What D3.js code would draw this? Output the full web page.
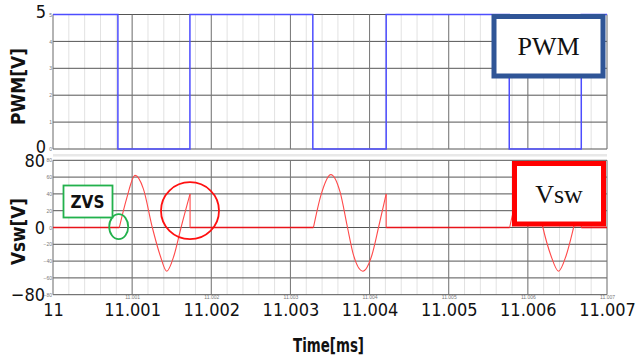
<!DOCTYPE HTML>
<html>
<head>
<meta charset="utf-8">
<style>
html, body {
  margin:0;
  padding:0;
  background:white;
}
svg {
  display:block;
}
.big text {
  font-family:"Liberation Sans Narrow","DejaVu Sans Condensed",sans-serif;
  font-size:18px;
  fill:#111;
}
.tiny text {
  font-family:"Liberation Sans",sans-serif;
  font-size:5px;
  fill:#777;
}
.title {
  font-family:"Liberation Sans Narrow","DejaVu Sans Condensed",sans-serif;
  font-weight:bold;
  font-size:19px;
  fill:#111;
}
.boxlabel {
  font-family:"Liberation Serif","DejaVu Serif",serif;
  font-size:26px;
  fill:#111;
}
</style>
</head>
<body>
<div id="chart"></div>
<script src="https://d3js.org/d3.v7.min.js"></script>
<script>
// tick values
const timeTicks = [11, 11.001, 11.002, 11.003, 11.004, 11.005, 11.006, 11.007];
const pwmTicks = [0, 1, 2, 3, 4, 5];
const pwmBigTicks = [0, 5];
const vswTicks = [-80, -60, -40, -20, 0, 20, 40, 60, 80];
const vswBigTicks = [-80, 0, 80];

// PWM gate signal (step after)
const pwmTime = [11, 11.00082, 11.00173, 11.003283, 11.00421, 11.005765, 11.006675, 11.007];
const pwmVolt = [5, 0, 5, 0, 5, 0, 5, 5];

// Vsw ringing pulses
const pulseTime = [
  [11.000838, 11.000932, 11.001037, 11.001142, 11.001255, 11.001353, 11.001437, 11.00153, 11.001618, 11.001732],
  [11.003291, 11.003384, 11.003511, 11.003628, 11.003721, 11.003797, 11.003915, 11.004029, 11.004113, 11.00421],
  [11.005770, 11.005865, 11.005985, 11.006095, 11.00619, 11.00629, 11.006388, 11.006485, 11.006578, 11.006675]
];
const pulseVolt = [
  [0, 35, 62, 46, 0, -33, -52, -33, 0, 40],
  [0, 38, 63, 42, 0, -33, -52, -33, 0, 40],
  [0, 37, 62, 44, 0, -33, -52, -33, 0, 40]
];

const width = 637, height = 358;

const svg = d3.select("#chart").append("svg")
  .attr("width", width)
  .attr("height", height);

const x = d3.scaleLinear().domain([11, 11.007]).range([53, 607]);
const yP = d3.scaleLinear().domain([0, 5]).range([149, 14.5]);
const yV = d3.scaleLinear().domain([-80, 80]).range([294.7, 160.3]);

// light band between the panels
svg.append("rect")
  .attr("x", x(11)).attr("y", 154)
  .attr("width", x(11.007) - x(11)).attr("height", 2.5)
  .attr("fill", "#e8e8e8");

function drawGrid(y, ticks) {
  const g = svg.append("g");
  g.selectAll(".minor")
    .data(x.ticks(35))
    .enter().append("line")
    .attr("x1", d => x(d)).attr("x2", d => x(d))
    .attr("y1", y.range()[0]).attr("y2", y.range()[1])
    .attr("stroke", "#e2e2e2").attr("stroke-width", 1);
  g.selectAll(".hline")
    .data(ticks)
    .enter().append("line")
    .attr("x1", x.range()[0]).attr("x2", x.range()[1])
    .attr("y1", d => y(d)).attr("y2", d => y(d))
    .attr("stroke", "#555").attr("stroke-width", 1);
  g.selectAll(".vline")
    .data(timeTicks)
    .enter().append("line")
    .attr("x1", d => x(d)).attr("x2", d => x(d))
    .attr("y1", y.range()[0]).attr("y2", y.range()[1])
    .attr("stroke", "#777").attr("stroke-width", 1);
}
drawGrid(yP, pwmTicks);
drawGrid(yV, vswTicks);

// tiny tick labels
svg.append("g").attr("class", "tiny")
  .attr("transform", `translate(${x(11)},0)`)
  .call(d3.axisLeft(yP).tickValues(pwmTicks).tickSize(0).tickPadding(1).tickFormat(d3.format("d")))
  .call(g => g.select(".domain").remove());
svg.append("g").attr("class", "tiny")
  .attr("transform", `translate(${x(11)},0)`)
  .call(d3.axisLeft(yV).tickValues(vswTicks).tickSize(0).tickPadding(1))
  .call(g => g.select(".domain").remove());
svg.append("g").attr("class", "tiny")
  .attr("transform", `translate(0,${yV(-80)})`)
  .call(d3.axisBottom(x).tickValues(timeTicks.slice(1)).tickSize(0).tickPadding(1).tickFormat(d3.format(".3f")))
  .call(g => g.select(".domain").remove());

// big tick labels
svg.append("g").attr("class", "big")
  .attr("transform", `translate(${x(11) - 7},-2.5)`)
  .call(d3.axisLeft(yP).tickValues(pwmBigTicks).tickSize(0).tickPadding(0).tickFormat(d3.format("d")))
  .call(g => g.select(".domain").remove());
svg.append("g").attr("class", "big")
  .attr("transform", `translate(${x(11) - 8},0)`)
  .call(d3.axisLeft(yV).tickValues(vswBigTicks).tickSize(0).tickPadding(0))
  .call(g => g.select(".domain").remove());
svg.append("g").attr("class", "big")
  .attr("transform", `translate(0,303)`)
  .call(d3.axisBottom(x).tickValues(timeTicks).tickSize(0).tickPadding(0).tickFormat(d => d === 11 ? "11" : d3.format(".3f")(d)))
  .call(g => g.select(".domain").remove());

// PWM trace
const pwmLine = d3.line()
  .x(d => x(d[0])).y(d => yP(d[1]))
  .curve(d3.curveStepAfter);
svg.append("path")
  .datum(d3.zip(pwmTime, pwmVolt))
  .attr("d", pwmLine)
  .attr("fill", "none")
  .attr("stroke", "#4d4dff")
  .attr("stroke-width", 1.5);

// Vsw trace: flat parts, ringing parts, drops
const vLin = d3.line().x(d => x(d[0])).y(d => yV(d[1]));
const vSmooth = d3.line().x(d => x(d[0])).y(d => yV(d[1])).curve(d3.curveMonotoneX);
const flats = [];
let prevEnd = 11;
pulseTime.forEach((t, i) => {
  flats.push([[prevEnd, 0], [t[0], 0]]);
  prevEnd = t[t.length - 1];
});
flats.push([[prevEnd, 0], [11.007, 0]]);

svg.selectAll(".flat")
  .data(flats)
  .enter().append("path")
  .attr("d", vLin)
  .attr("fill", "none")
  .attr("stroke", "#e8141b")
  .attr("stroke-width", 1.6);

svg.selectAll(".ring")
  .data(pulseTime.map((t, i) => d3.zip(t, pulseVolt[i])))
  .enter().append("path")
  .attr("d", vSmooth)
  .attr("fill", "none")
  .attr("stroke", "#ff4a4a")
  .attr("stroke-width", 1.1);

svg.selectAll(".drop")
  .data(pulseTime.map((t, i) => [[t[t.length - 1], pulseVolt[i][t.length - 1]], [t[t.length - 1], 0]]))
  .enter().append("path")
  .attr("d", vLin)
  .attr("fill", "none")
  .attr("stroke", "#ff4a4a")
  .attr("stroke-width", 1.1);

// annotations
svg.append("ellipse")
  .attr("cx", 118.7).attr("cy", 226.7).attr("rx", 9.5).attr("ry", 12.5)
  .attr("fill", "none").attr("stroke", "#22b14c").attr("stroke-width", 1.8);
svg.append("ellipse")
  .attr("cx", 190).attr("cy", 210.7).attr("rx", 29).attr("ry", 28.5)
  .attr("fill", "none").attr("stroke", "#ff1010").attr("stroke-width", 1.8);

svg.append("rect")
  .attr("x", 63.5).attr("y", 185.5).attr("width", 49).attr("height", 32)
  .attr("fill", "white").attr("stroke", "#22b14c").attr("stroke-width", 1.8);
svg.append("text")
  .attr("class", "title")
  .attr("x", 87.5).attr("y", 207.5)
  .attr("text-anchor", "middle")
  .style("font-size", "17px")
  .text("ZVS");

svg.append("rect")
  .attr("x", 494).attr("y", 16.5).attr("width", 109).attr("height", 59.5)
  .attr("fill", "white").attr("stroke", "#2f5597").attr("stroke-width", 5);
svg.append("text")
  .attr("class", "boxlabel")
  .attr("x", 548.5).attr("y", 55)
  .attr("text-anchor", "middle")
  .text("PWM");

svg.append("rect")
  .attr("x", 514.5).attr("y", 163.5).attr("width", 89).attr("height", 60.5)
  .attr("fill", "white").attr("stroke", "#ff0000").attr("stroke-width", 5);
svg.append("text")
  .attr("class", "boxlabel")
  .attr("x", 559).attr("y", 202.5)
  .attr("text-anchor", "middle")
  .text("Vsw");

// axis titles
svg.append("text")
  .attr("class", "title")
  .attr("transform", "translate(25,86.5)rotate(-90)")
  .attr("text-anchor", "middle")
  .attr("textLength", 77).attr("lengthAdjust", "spacingAndGlyphs")
  .text("PWM[V]");
svg.append("text")
  .attr("class", "title")
  .attr("transform", "translate(25,231.5)rotate(-90)")
  .attr("text-anchor", "middle")
  .attr("textLength", 67).attr("lengthAdjust", "spacingAndGlyphs")
  .text("Vsw[V]");
svg.append("text")
  .attr("class", "title")
  .attr("x", 328.5).attr("y", 351.5)
  .attr("text-anchor", "middle")
  .attr("textLength", 71).attr("lengthAdjust", "spacingAndGlyphs")
  .text("Time[ms]");
</script>
</body>
</html>
